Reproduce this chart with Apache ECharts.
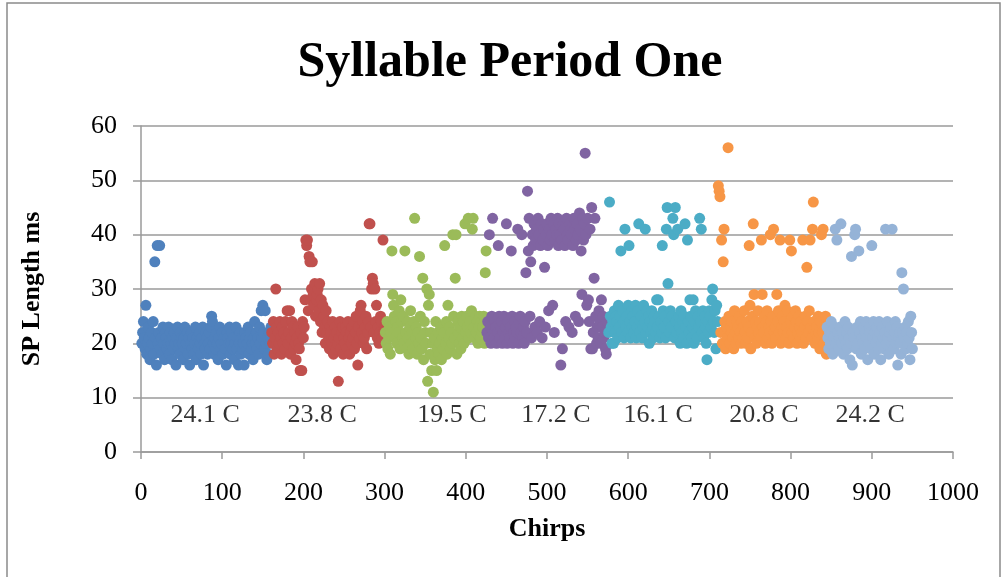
<!DOCTYPE html>
<html>
<head>
<meta charset="utf-8">
<title>Syllable Period One</title>
<script src="https://cdn.jsdelivr.net/npm/echarts@6/dist/echarts.min.js"></script>
<style>
  html, body { margin: 0; padding: 0; background: #fff; }
  #chart { width: 1003px; height: 577px; }
</style>
</head>
<body>
<div id="chart"></div>
<script>
// Syllable period (ms) for each recorded chirp, grouped by recording temperature.
// Each group lists its values in chirp order, starting at the chirp number in chirpStart.
const groupNames = ['24.1 C', '23.8 C', '19.5 C', '17.2 C', '16.1 C', '20.8 C', '24.2 C'];
const chirpStart = [1, 161, 301, 426, 576, 711, 845];

const sp241 = [
  20, 22, 24, 21, 19, 27, 18, 20, 23, 21,
  17, 19, 22, 20, 24, 18, 35, 21, 16, 38,
  20, 22, 38, 19, 21, 18, 23, 20, 17, 22,
  21, 19, 20, 23, 18, 22, 20, 17, 21, 19,
  22, 20, 16, 21, 23, 19, 20, 18, 22, 21,
  20, 17, 21, 23, 19, 20, 22, 18, 21, 16,
  20, 22, 19, 21, 18, 20, 23, 17, 21, 20,
  19, 22, 20, 18, 21, 23, 16, 20, 19, 22,
  21, 18, 20, 22, 19, 23, 25, 24, 20, 18,
  21, 19, 22, 20, 17, 21, 23, 19, 20, 22,
  18, 21, 20, 19, 16, 22, 21, 20, 23, 18,
  20, 22, 19, 21, 17, 20, 23, 19, 21, 16,
  20, 22, 18, 21, 19, 20, 16, 22, 21, 19,
  20, 23, 18, 21, 22, 19, 20, 17, 21, 24,
  20, 22, 19, 21, 18, 23, 20, 26, 21, 27,
  22, 19, 26, 20, 17, 21, 18, 22, 20, 23
];
const sp238 = [
  22, 20, 24, 18, 21, 30, 23, 19, 22, 20,
  24, 21, 18, 23, 20, 22, 19, 24, 21, 26,
  20, 22, 26, 18, 21, 24, 23, 19, 22, 20,
  17, 21, 23, 20, 19, 15, 22, 15, 24, 21,
  23, 28, 39, 38, 39, 26, 36, 35, 28, 30,
  35, 29, 27, 31, 25, 28, 29, 30, 26, 31,
  24, 28, 22, 27, 25, 23, 20, 26, 22, 24,
  21, 19, 23, 22, 20, 24, 18, 21, 23, 19,
  22, 20, 13, 21, 24, 19, 22, 23, 18, 21,
  20, 23, 22, 19, 24, 21, 18, 22, 20, 23,
  21, 24, 19, 22, 25, 20, 16, 23, 21, 26,
  27, 22, 24, 20, 21, 23, 25, 19, 22, 24,
  42, 42, 23, 30, 32, 31, 22, 30, 24, 27,
  21, 23, 20, 22, 25, 24, 21, 39, 22, 23
];
const sp195 = [
  22, 20, 24, 19, 21, 23, 18, 22, 37, 29,
  27, 25, 21, 24, 20, 23, 22, 26, 19, 28,
  24, 21, 25, 20, 37, 22, 19, 24, 21, 18,
  23, 26, 20, 22, 19, 24, 43, 21, 23, 18,
  22, 20, 36, 25, 21, 19, 32, 17, 24, 22,
  20, 30, 13, 27, 29, 18, 22, 15, 20, 11,
  21, 17, 24, 15, 19, 22, 18, 20, 23, 17,
  21, 19, 22, 38, 20, 24, 18, 27, 21, 23,
  19, 22, 20, 40, 25, 21, 32, 40, 18, 24,
  22, 20, 23, 19, 25, 21, 24, 20, 42, 22,
  25, 23, 43, 21, 24, 22, 26, 41, 43, 23,
  21, 25, 22, 24, 20, 23, 25, 21, 24, 22,
  23, 25, 20, 33, 37
];
const sp172 = [
  22, 24, 21, 40, 23, 20, 25, 43, 22, 21,
  24, 23, 20, 22, 38, 25, 21, 23, 24, 20,
  22, 25, 21, 23, 42, 20, 24, 22, 21, 23,
  37, 25, 20, 22, 24, 21, 23, 22, 41, 20,
  24, 25, 22, 40, 21, 23, 20, 24, 33, 22,
  48, 37, 43, 25, 35, 21, 40, 38, 42, 23,
  39, 41, 22, 43, 40, 24, 38, 42, 21, 39,
  41, 34, 23, 40, 42, 38, 26, 41, 39, 43,
  40, 27, 42, 22, 39, 41, 40, 43, 38, 42,
  40, 16, 39, 19, 42, 41, 38, 24, 43, 40,
  39, 23, 42, 41, 40, 22, 38, 43, 41, 25,
  39, 42, 40, 24, 44, 41, 37, 29, 43, 39,
  42, 55, 40, 27, 43, 28, 24, 41, 19, 45,
  19, 22, 32, 43, 25, 20, 23, 21, 26, 24,
  20, 28, 23, 25, 21, 22, 19, 18, 24
];
const sp161 = [
  22, 46, 25, 23, 20, 24, 20, 26, 22, 25,
  24, 21, 27, 23, 25, 37, 22, 26, 24, 21,
  41, 23, 25, 22, 27, 38, 24, 21, 26, 23,
  25, 22, 24, 27, 21, 23, 26, 42, 22, 24,
  25, 21, 23, 27, 24, 41, 22, 26, 23, 25,
  20, 24, 22, 26, 23, 21, 25, 24, 22, 28,
  23, 28, 25, 21, 24, 22, 38, 26, 23, 25,
  21, 41, 45, 31, 24, 22, 26, 23, 25, 43,
  40, 21, 45, 24, 22, 41, 25, 23, 20, 26,
  22, 24, 21, 25, 42, 23, 20, 39, 24, 22,
  28, 25, 21, 23, 28, 20, 24, 26, 22, 21,
  25, 23, 43, 24, 41, 22, 26, 21, 25, 23,
  20, 17, 24, 22, 26, 25, 23, 28, 30, 24,
  22, 26, 19, 27, 24
];
const sp208 = [
  49, 48, 47, 22, 39, 20, 35, 41, 24, 19, 23,
  21, 56, 25, 20, 23, 22, 24, 21, 19, 26,
  22, 20, 24, 23, 21, 25, 22, 20, 24, 21,
  23, 26, 22, 20, 24, 21, 23, 38, 27, 19,
  22, 25, 42, 29, 21, 24, 20, 23, 26, 22,
  24, 21, 39, 29, 23, 22, 25, 20, 24, 26,
  21, 23, 22, 40, 24, 20, 25, 41, 22, 23,
  21, 29, 24, 26, 22, 39, 20, 23, 25, 22,
  24, 27, 21, 23, 26, 22, 20, 39, 24, 37,
  22, 25, 21, 23, 26, 24, 20, 22, 25, 23,
  21, 24, 22, 39, 20, 23, 25, 21, 34, 24,
  22, 26, 39, 23, 21, 41, 46, 24, 20, 22,
  23, 21, 25, 22, 19, 24, 40, 22, 41, 20,
  23, 25, 18
];
const sp242 = [
  23, 21, 19, 22, 20, 24, 22, 18, 21, 23,
  41, 20, 39, 22, 19, 21, 23, 42, 20, 22,
  18, 21, 24, 20, 22, 19, 23, 21, 17, 20,
  36, 16, 22, 21, 40, 41, 19, 23, 20, 37,
  22, 24, 18, 21, 20, 23, 19, 22, 24, 21,
  17, 20, 23, 22, 19, 38, 21, 24, 18, 22,
  20, 23, 21, 19, 24, 22, 17, 20, 23, 21,
  19, 22, 41, 20, 24, 21, 18, 22, 23, 20,
  41, 21, 19, 22, 24, 20, 23, 16, 21, 22,
  20, 18, 33, 22, 30, 21, 23, 19, 22, 20,
  24, 21, 17, 25, 22, 19
];
const groupValues = [sp241, sp238, sp195, sp172, sp161, sp208, sp242];

// Axis ticks
const xTicks = [0, 100, 200, 300, 400, 500, 600, 700, 800, 900, 1000];
const yTicks = [0, 10, 20, 30, 40, 50, 60];

// Office-style series colours
const palette = ['#4F81BD', '#C0504D', '#9BBB59', '#8064A2', '#4BACC6', '#F79646', '#95B3D7'];

// Where each temperature caption sits, in chart coordinates (chirp, ms)
const captionAt = [[79, 6.8], [223, 6.8], [383, 6.8], [511, 6.8], [637, 6.8], [767, 6.8], [898, 6.8]];

const SERIF = '"Liberation Serif", "DejaVu Serif", serif';

const chart = echarts.init(document.getElementById('chart'), null, { renderer: 'canvas' });

const pointSeries = groupValues.map((vals, g) => ({
  name: groupNames[g],
  type: 'scatter',
  symbol: 'circle',
  symbolSize: 11,
  itemStyle: { color: palette[g], opacity: 1 },
  emphasis: { disabled: true },
  data: vals.map((v, i) => [chirpStart[g] + i, v]),
  z: 2 + g
}));

const captionSeries = {
  name: 'captions',
  type: 'scatter',
  symbolSize: 0,
  silent: true,
  data: captionAt,
  label: {
    show: true,
    position: 'inside',
    formatter: p => groupNames[p.dataIndex],
    fontFamily: SERIF,
    fontSize: 26,
    color: '#000'
  },
  z: 20
};

chart.setOption({
  animation: false,
  backgroundColor: '#fff',
  graphic: [
    {
      type: 'rect',
      shape: { x: 7, y: 3, width: 993, height: 620 },
      style: { fill: 'none', stroke: '#8a8a8a', lineWidth: 1.5 },
      silent: true
    },
    {
      type: 'text',
      x: 510,
      y: 63,
      style: {
        text: 'Syllable Period One',
        fontFamily: SERIF,
        fontWeight: 'bold',
        fontSize: 50,
        fill: '#000',
        align: 'center',
        verticalAlign: 'middle'
      },
      silent: true
    }
  ],
  grid: { left: 141, right: 50, top: 126, bottom: 125, containLabel: false },
  xAxis: {
    type: 'value',
    min: xTicks[0],
    max: xTicks[xTicks.length - 1],
    interval: xTicks[1] - xTicks[0],
    name: 'Chirps',
    nameLocation: 'middle',
    nameGap: 64,
    nameTextStyle: { fontFamily: SERIF, fontWeight: 'bold', fontSize: 26, color: '#000' },
    axisLine: { show: true, lineStyle: { color: '#9a9a9a', width: 1.5 } },
    axisTick: { show: true, inside: false, length: 7, lineStyle: { color: '#9a9a9a', width: 1.5 } },
    axisLabel: { fontFamily: SERIF, fontSize: 26, color: '#000', margin: 28, formatter: v => String(v) },
    splitLine: { show: false }
  },
  yAxis: {
    type: 'value',
    min: yTicks[0],
    max: yTicks[yTicks.length - 1],
    interval: yTicks[1] - yTicks[0],
    name: 'SP Length ms',
    nameLocation: 'middle',
    nameGap: 96,
    nameRotate: 90,
    nameTextStyle: { fontFamily: SERIF, fontWeight: 'bold', fontSize: 26, color: '#000' },
    axisLine: { show: true, lineStyle: { color: '#9a9a9a', width: 1.5 } },
    axisTick: { show: true, inside: false, length: 8, lineStyle: { color: '#9a9a9a', width: 1.5 } },
    axisLabel: { fontFamily: SERIF, fontSize: 26, color: '#000', margin: 24, formatter: v => String(v) },
    splitLine: { show: true, lineStyle: { color: '#9a9a9a', width: 1.5 } }
  },
  series: pointSeries.concat([captionSeries])
});
</script>
</body>
</html>
